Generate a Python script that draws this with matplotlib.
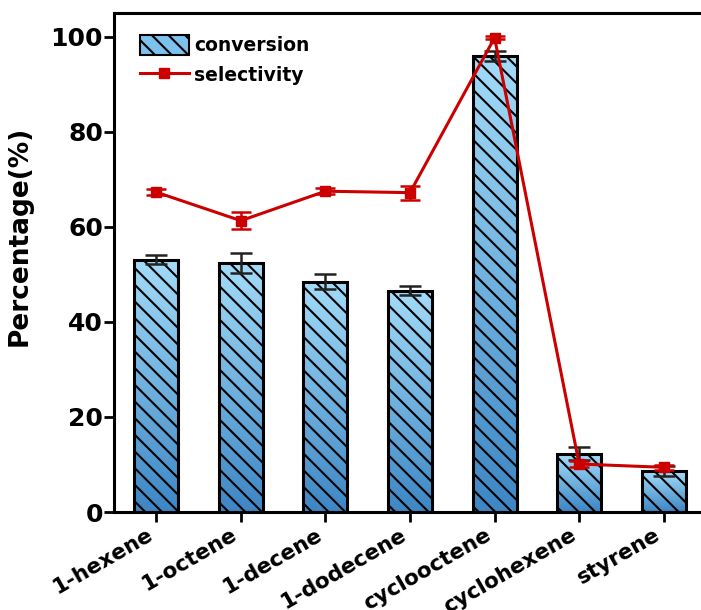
import numpy as np
import matplotlib.pyplot as plt
import matplotlib.transforms as mtransforms
from matplotlib.colors import LinearSegmentedColormap
from matplotlib.patches import Patch
from matplotlib.lines import Line2D

plt.rcParams['font.family'] = ['DejaVu Sans']
plt.rcParams['font.weight'] = 'bold'
plt.rcParams['hatch.linewidth'] = 1.5

substrates = ['1-hexene', '1-octene', '1-decene', '1-dodecene',
              'cyclooctene', 'cyclohexene', 'styrene']
conversion = [53.1, 52.3, 48.5, 46.6, 96.0, 12.3, 8.6]
conversion_err = [1.0, 2.1, 1.5, 1.0, 1.0, 1.3, 1.0]
selectivity = [67.3, 61.3, 67.5, 67.2, 99.8, 10.1, 9.4]
selectivity_err = [0.6, 1.8, 0.6, 1.5, 0.3, 0.6, 0.5]
yticks = [0, 20, 40, 60, 80, 100]

DPI = 100
fig = plt.figure(figsize=(7.01, 6.10), dpi=DPI)
ax = fig.add_axes([114 / 701, 98 / 610, 592 / 701, 499 / 610])

x = np.arange(len(substrates))
width = 0.52
cmap = LinearSegmentedColormap.from_list('blu', ['#3d86c4', '#a3dcf9'])
grad = np.linspace(0, 1, 256).reshape(-1, 1)

# bars: gradient image clipped to each bar, hatch + outline on top
bars = ax.bar(x, conversion, width, facecolor='none', edgecolor='black',
              linewidth=2.2, hatch='\\\\', zorder=3)
for b in bars:
    x0, y0 = b.get_x(), b.get_y()
    im = ax.imshow(grad, cmap=cmap, origin='lower', aspect='auto',
                   extent=[x0, x0 + b.get_width(), y0, y0 + b.get_height()],
                   zorder=2)
    im.set_clip_path(b)

ax.errorbar(x, conversion, yerr=conversion_err, fmt='none', ecolor='#222222',
            elinewidth=1.8, capsize=8, capthick=1.8, zorder=4)

red = '#cc0000'
ax.errorbar(x, selectivity, yerr=selectivity_err, color=red, lw=2.2,
            marker='s', markersize=7.5, ecolor=red, elinewidth=1.8, capsize=7,
            capthick=1.8, zorder=5)

ax.set_xlim(-0.5, 6.5)
ax.set_ylim(0, 105)
ax.set_yticks(yticks)
ax.set_xticks(x)
ax.set_xticklabels(substrates, rotation=30, ha='right', fontsize=15.5)
offset = mtransforms.ScaledTranslation(24 / DPI, 0, fig.dpi_scale_trans)
for lab in ax.get_xticklabels():
    lab.set_transform(lab.get_transform() + offset)

ax.tick_params(axis='y', labelsize=18, pad=1)
ax.tick_params(axis='x', pad=2)
ax.tick_params(axis='both', width=2, length=7, direction='out')
for side in ['left', 'bottom', 'top']:
    ax.spines[side].set_linewidth(2.2)
ax.spines['right'].set_visible(False)
ax.set_ylabel('Percentage(%)', fontsize=19, fontweight='bold')
ax.yaxis.set_label_coords(-0.138, 0.553)

handles = [Patch(facecolor='#7cc2ee', edgecolor='black', hatch='\\\\', linewidth=1.5),
           Line2D([], [], color=red, lw=2.2, marker='s', markersize=7.5)]
ax.legend(handles, ['conversion', 'selectivity'], loc='upper left',
          bbox_to_anchor=(0.015, 0.99), frameon=False, fontsize=13.5,
          handlelength=2.6, handleheight=1.3, handletextpad=0.3, labelspacing=0.5)

fig.savefig('out.png', dpi=DPI)
